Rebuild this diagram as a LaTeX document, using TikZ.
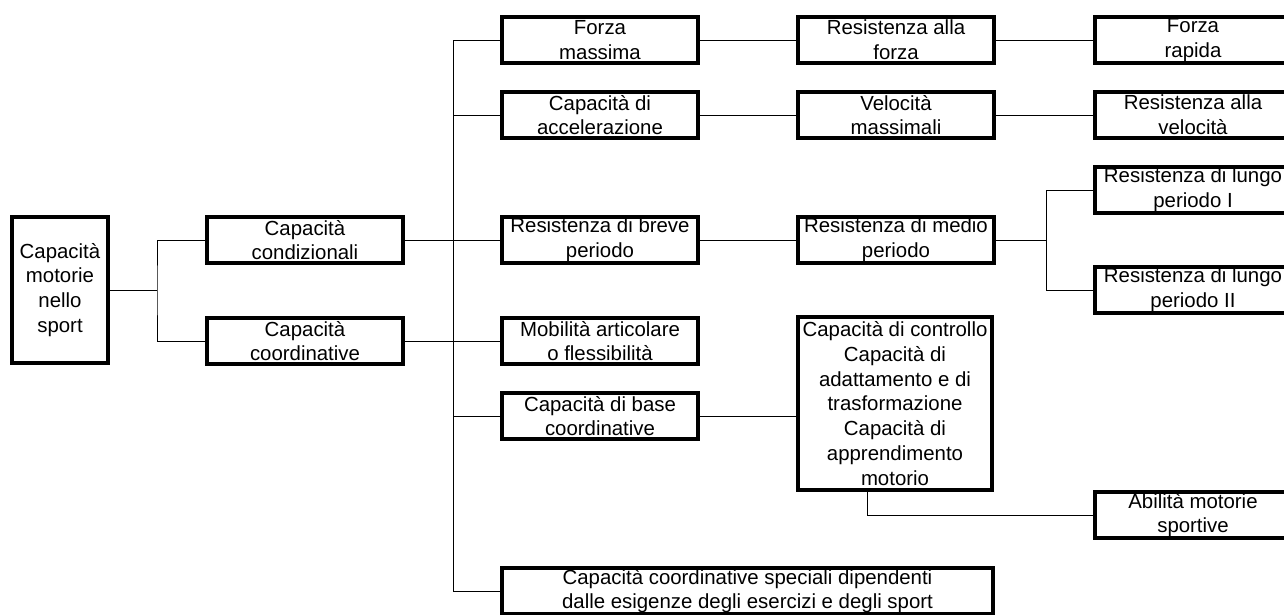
\documentclass[tikz,border=0pt]{standalone}
\usepackage{fontspec}
\setmainfont{Liberation Sans}
\usetikzlibrary{calc}
\tikzset{
  box/.style={draw=black, line width=3pt, fill=white, inner sep=0pt,
    align=center, minimum width=147pt, minimum height=34.5pt,
    font=\fontsize{15.3}{18.6}\selectfont},
  link/.style={draw=black, line width=0.75pt}
}
\begin{document}
\begin{tikzpicture}[x=0.75pt, y=-0.75pt]
\useasboundingbox (0,0) rectangle (1284,614);
\clip (0,0) rectangle (1284,614);

% root and first level
\node[box, minimum width=72pt, minimum height=109.5pt] (root) at (60,290) {Capacità\\motorie\\nello\\sport};
\node[box] (cond)  at (305,240) {Capacità\\condizionali};
\node[box] (coord) at (305,341) {Capacità\\coordinative};

% second level
\node[box] (fm)   at (600,40)  {Forza\\massima};
\node[box] (acc)  at (600,115) {Capacità di\\accelerazione};
\node[box] (brev) at (600,240) {Resistenza di breve\\periodo};
\node[box] (mob)  at (600,341) {Mobilità articolare\\o flessibilità};
\node[box] (base) at (600,416) {Capacità di base\\coordinative};
\node[box, minimum width=368.2pt] (spec) at (747.5,591) {Capacità coordinative speciali dipendenti\\dalle esigenze degli esercizi e degli sport};

% third level
\node[box] (rf)   at (896,40)  {Resistenza alla\\forza};
\node[box] (vm)   at (896,115) {Velocità\\massimali};
\node[box] (med)  at (896,240) {Resistenza di medio\\periodo};
\node[box, minimum width=145.5pt, minimum height=129.7pt] (ctrl) at (895,403.5)
  {Capacità di controllo\\Capacità di\\adattamento e di\\trasformazione\\Capacità di\\apprendimento\\motorio};

% fourth level
\node[box] (frap) at (1193,40)  {Forza\\rapida};
\node[box] (rvel) at (1193,115) {Resistenza alla\\velocità};
\node[box] (l1)   at (1193,190) {Resistenza di lungo\\periodo I};
\node[box] (l2)   at (1193,290) {Resistenza di lungo\\periodo II};
\node[box] (abil) at (1193,515) {Abilità motorie\\sportive};

% junction points
\coordinate (j1) at (157,290);
\coordinate (s1) at (453,591);
\coordinate (j2) at (1046,240);

% connectors
\draw[link] (root.east) -- (j1);
\draw[link] (cond.west) -| (j1) |- (coord.west);
\draw[link] (fm.west) -| (s1) -- (spec.west);
\draw[link] (acc.west) -- (acc.west -| s1);
\draw[link] (base.west) -- (base.west -| s1);
\draw[link] (cond.east) -- (brev.west);
\draw[link] (coord.east) -- (mob.west);
\draw[link] (fm.east) -- (rf.west);
\draw[link] (rf.east) -- (frap.west);
\draw[link] (acc.east) -- (vm.west);
\draw[link] (vm.east) -- (rvel.west);
\draw[link] (brev.east) -- (med.west);
\draw[link] (med.east) -- (j2);
\draw[link] (l1.west) -| (j2) |- (l2.west);
\draw[link] (base.east) -- (base.east -| ctrl.west);
\draw[link] ($(ctrl.south)+(-28,0)$) |- (abil.west);
\end{tikzpicture}
\end{document}
